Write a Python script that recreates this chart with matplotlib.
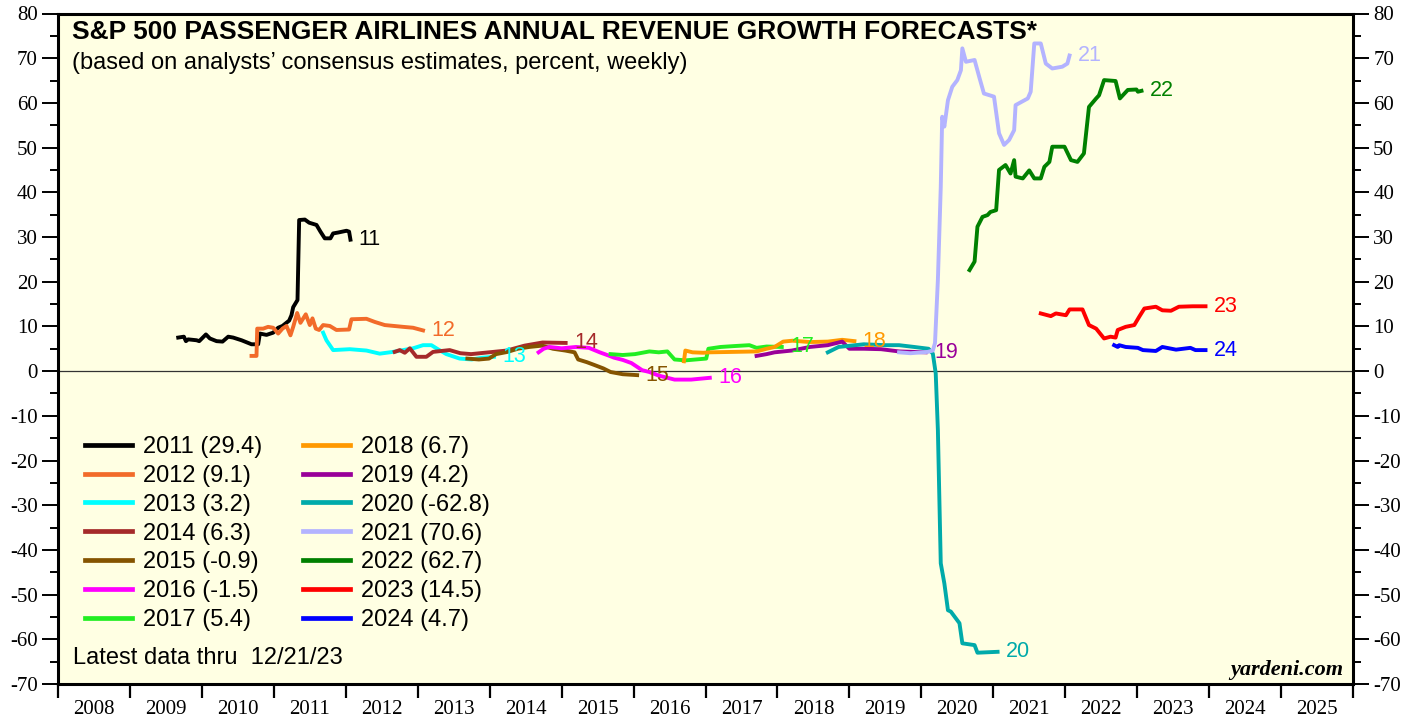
import matplotlib
matplotlib.use('Agg')
import matplotlib.pyplot as plt
from matplotlib.ticker import FixedLocator, MultipleLocator, NullFormatter, FixedFormatter

plt.rcParams['axes.unicode_minus'] = False
plt.rcParams['font.family'] = ['Liberation Serif', 'DejaVu Serif']

# ---------------- data (decimal year, percent) ----------------
years = [2011, 2012, 2013, 2014, 2015, 2016, 2017, 2018, 2019, 2020, 2021, 2022, 2023, 2024]
final_vals = [29.4, 9.1, 3.2, 6.3, -0.9, -1.5, 5.4, 6.7, 4.2, -62.8, 70.6, 62.7, 14.5, 4.7]
colors = ['#000000', '#F26B2A', '#00FFFF', '#A52A2A', '#855400', '#FF00FF', '#22EE22',
          '#FF9900', '#990099', '#00AAAA', '#B3B3FF', '#008000', '#FF0000', '#0000FF']

t2011 = [2009.671, 2009.750, 2009.778, 2009.810, 2009.926, 2009.963, 2010.056, 2010.111, 2010.204,
         2010.287, 2010.366, 2010.435, 2010.551, 2010.690, 2010.782, 2010.806, 2010.898, 2010.991,
         2011.060, 2011.120, 2011.213, 2011.245, 2011.269, 2011.329, 2011.352, 2011.431, 2011.491,
         2011.593, 2011.648, 2011.708, 2011.787, 2011.824, 2011.894, 2012.010, 2012.046, 2012.065]
v2011 = [7.5, 7.7, 6.7, 7.1, 6.9, 6.7, 8.2, 7.3, 6.7, 6.6, 7.7, 7.5, 6.9, 6.0, 6.0, 8.4, 8.1, 8.6,
         9.7, 10.1, 11.3, 12.5, 14.3, 15.9, 33.8, 33.9, 33.2, 32.7, 31.2, 29.7, 29.7, 30.8, 31.0,
         31.4, 31.2, 29.4]

t2012 = [2010.690, 2010.759, 2010.769, 2010.852, 2010.920, 2010.991, 2011.060, 2011.120, 2011.176,
         2011.231, 2011.269, 2011.324, 2011.370, 2011.444, 2011.500, 2011.537, 2011.583, 2011.630,
         2011.685, 2011.778, 2011.870, 2012.046, 2012.079, 2012.287, 2012.403, 2012.542, 2012.796,
         2012.935, 2013.074]
v2012 = [3.4, 3.4, 9.5, 9.5, 9.9, 9.7, 8.4, 9.5, 10.1, 8.0, 9.9, 13.0, 10.8, 12.7, 10.3, 11.8, 9.5,
         9.2, 10.3, 10.1, 9.2, 9.3, 11.6, 11.7, 11.0, 10.3, 9.9, 9.7, 9.1]

t2013 = [2011.685, 2011.731, 2011.824, 2012.056, 2012.287, 2012.472, 2012.657, 2012.935, 2013.074,
         2013.190, 2013.280, 2013.398, 2013.583, 2013.750, 2013.900, 2014.060]
v2013 = [8.6, 6.9, 4.7, 4.9, 4.6, 3.9, 4.3, 5.1, 5.8, 5.8, 4.9, 3.8, 2.8, 2.6, 3.0, 3.2]

t2014 = [2012.680, 2012.750, 2012.820, 2012.890, 2012.982, 2013.120, 2013.213, 2013.329, 2013.444,
         2013.593, 2013.742, 2013.990, 2014.238, 2014.486, 2014.735, 2015.056]
v2014 = [4.3, 4.7, 4.1, 5.1, 3.2, 3.2, 4.3, 4.5, 4.7, 4.0, 3.8, 4.2, 4.6, 5.7, 6.4, 6.3]

t2015 = [2013.690, 2013.850, 2013.990, 2014.090, 2014.250, 2014.390, 2014.550, 2014.730, 2014.880,
         2015.050, 2015.180, 2015.230, 2015.350, 2015.450, 2015.580, 2015.680, 2015.850, 2016.050]
v2015 = [2.8, 2.6, 2.8, 3.8, 4.3, 5.0, 5.4, 5.7, 5.0, 4.6, 4.2, 2.6, 2.0, 1.4, 0.6, -0.2, -0.7, -0.9]

t2016 = [2014.680, 2014.750, 2014.830, 2015.000, 2015.200, 2015.380, 2015.530, 2015.650, 2015.730,
         2015.850, 2015.970, 2016.120, 2016.220, 2016.350, 2016.570, 2016.800, 2017.060]
v2016 = [4.2, 5.0, 5.4, 5.1, 5.4, 5.2, 4.2, 3.5, 3.0, 2.5, 1.8, 0.2, -0.2, -1.0, -1.9, -1.9, -1.5]

t2017 = [2015.680, 2015.850, 2016.020, 2016.220, 2016.350, 2016.470, 2016.570, 2016.720, 2017.010,
         2017.040, 2017.210, 2017.400, 2017.610, 2017.710, 2017.850, 2018.060]
v2017 = [3.8, 3.6, 3.8, 4.4, 4.2, 4.4, 2.6, 2.4, 2.8, 5.0, 5.4, 5.6, 5.8, 5.2, 5.5, 5.4]

t2018 = [2016.700, 2016.720, 2016.820, 2016.970, 2017.060, 2017.400, 2017.710, 2017.850, 2017.960,
         2018.080, 2018.210, 2018.450, 2018.700, 2018.900, 2019.070]
v2018 = [2.2, 4.6, 4.2, 4.1, 4.2, 4.3, 4.4, 5.0, 5.4, 6.6, 6.8, 6.5, 6.6, 7.0, 6.7]

t2019 = [2017.710, 2017.850, 2017.960, 2018.200, 2018.450, 2018.700, 2018.900, 2019.000, 2019.200,
         2019.440, 2019.690, 2020.060]
v2019 = [3.4, 3.8, 4.2, 4.6, 5.4, 5.8, 6.6, 5.0, 5.0, 4.9, 4.4, 4.2]

t2020 = [2018.700, 2018.850, 2019.200, 2019.500, 2019.690, 2019.900, 2020.100, 2020.160, 2020.200,
         2020.230, 2020.250, 2020.270, 2020.320, 2020.370, 2020.410, 2020.530, 2020.570, 2020.740,
         2020.780, 2021.060]
v2020 = [4.2, 5.4, 6.0, 5.8, 5.8, 5.4, 5.0, 3.9, -0.5, -13.2, -28.1, -43.0, -47.5, -53.5, -53.8,
         -56.4, -60.9, -61.3, -63.0, -62.8]

t2021 = [2019.690, 2019.850, 2020.090, 2020.160, 2020.190, 2020.230, 2020.270, 2020.290, 2020.320,
         2020.370, 2020.430, 2020.500, 2020.550, 2020.570, 2020.620, 2020.740, 2020.810, 2020.870,
         2021.010, 2021.080, 2021.150, 2021.220, 2021.290, 2021.310, 2021.480, 2021.520, 2021.570,
         2021.660, 2021.730, 2021.820, 2021.960, 2022.030, 2022.060]
v2021 = [4.2, 4.0, 4.3, 4.6, 6.3, 20.4, 41.2, 56.9, 54.7, 60.6, 63.6, 65.1, 67.3, 72.2, 69.2, 69.6,
         65.5, 62.1, 61.4, 53.2, 50.6, 51.7, 53.9, 59.5, 61.0, 62.5, 73.3, 73.3, 68.8, 67.7, 68.1,
         68.8, 70.6]

t2022 = [2020.670, 2020.740, 2020.780, 2020.850, 2020.920, 2020.960, 2021.040, 2021.080, 2021.170,
         2021.240, 2021.290, 2021.310, 2021.410, 2021.500, 2021.570, 2021.660, 2021.710, 2021.780,
         2021.820, 2021.990, 2022.080, 2022.170, 2022.260, 2022.330, 2022.430, 2022.470, 2022.540,
         2022.700, 2022.760, 2022.870, 2022.990, 2023.010, 2023.060]
v2022 = [22.6, 24.5, 32.3, 34.5, 34.9, 35.6, 36.0, 45.0, 46.1, 44.2, 47.2, 43.5, 43.1, 44.9, 43.1,
         43.1, 45.7, 46.8, 50.2, 50.2, 47.2, 46.8, 48.7, 59.1, 61.0, 61.7, 65.1, 64.9, 61.0, 62.9,
         63.0, 62.5, 62.7]

t2023 = [2021.660, 2021.800, 2021.870, 2022.010, 2022.060, 2022.240, 2022.330, 2022.430, 2022.540,
         2022.630, 2022.700, 2022.730, 2022.840, 2022.960, 2023.030, 2023.100, 2023.260, 2023.350,
         2023.470, 2023.580, 2023.770, 2023.950]
v2023 = [12.9, 12.3, 12.9, 12.5, 13.8, 13.8, 10.3, 9.5, 7.3, 7.7, 7.5, 9.2, 9.9, 10.3, 12.2, 14.0,
         14.4, 13.6, 13.5, 14.4, 14.5, 14.5]

t2024 = [2022.680, 2022.730, 2022.750, 2022.840, 2023.010, 2023.080, 2023.260, 2023.350, 2023.540,
         2023.740, 2023.810, 2023.950]
v2024 = [5.8, 5.4, 5.8, 5.4, 5.2, 4.7, 4.5, 5.4, 4.8, 5.2, 4.7, 4.7]

series_t = [t2011, t2012, t2013, t2014, t2015, t2016, t2017, t2018, t2019, t2020, t2021, t2022, t2023, t2024]
series_v = [v2011, v2012, v2013, v2014, v2015, v2016, v2017, v2018, v2019, v2020, v2021, v2022, v2023, v2024]

axis_years = list(range(2008, 2026))

title = "S&P 500 PASSENGER AIRLINES ANNUAL REVENUE GROWTH FORECASTS*"
subtitle = "(based on analysts\u2019 consensus estimates, percent, weekly)"
note = "Latest data thru  12/21/23"
source = "yardeni.com"

SANS = ['Liberation Sans', 'DejaVu Sans']

# ---------------- figure ----------------
W, H = 1421, 719
fig = plt.figure(figsize=(W / 100, H / 100), dpi=100)
fig.patch.set_facecolor('white')
ax = fig.add_axes([58 / W, 1 - 684 / H, (1353 - 58) / W, (684 - 13.5) / H])
ax.set_facecolor('#FFFFE3')
ax.set_xlim(2008, 2026)
ax.set_ylim(-70, 80)

for s in ax.spines.values():
    s.set_linewidth(2.2)
    s.set_color('black')

ax.axhline(0, color='#333333', lw=0.9, zorder=1)

lines = []
for yr, tt, vv, c in zip(years, series_t, series_v, colors):
    ln, = ax.plot(tt, vv, color=c, lw=2.8, solid_joinstyle='round', zorder=3)
    lines.append(ln)
    ax.annotate(str(yr)[2:], xy=(tt[-1], vv[-1]), xytext=(6, 0), textcoords='offset points',
                color=c, fontsize=15.5, va='center', ha='left', family=SANS, zorder=4)

# x axis: ticks at year boundaries, labels centred in each year
ax.xaxis.set_major_locator(FixedLocator(list(range(2008, 2027))))
ax.xaxis.set_major_formatter(NullFormatter())
ax.xaxis.set_minor_locator(FixedLocator([y + 0.5 for y in axis_years]))
ax.xaxis.set_minor_formatter(FixedFormatter([str(y) for y in axis_years]))
ax.tick_params(axis='x', which='major', direction='out', length=10, width=1.6, top=False)
ax.tick_params(axis='x', which='minor', length=0, pad=11.5, labelsize=15)

# y axis: both sides
ax.yaxis.set_major_locator(MultipleLocator(10))
ax.yaxis.set_minor_locator(MultipleLocator(5))
ax.tick_params(axis='y', which='major', direction='out', length=11.5, width=1.4,
               left=True, right=True, labelleft=True, labelright=True, pad=3, labelsize=15)
ax.tick_params(axis='y', which='minor', direction='out', length=6, width=1.4, left=True, right=True)

# legend
labels = [f"{y} ({v:.1f})" for y, v in zip(years, final_vals)]
leg = ax.legend(lines, labels, ncol=2, loc='upper left', bbox_to_anchor=(85 / W, 1 - 436 / H),
                bbox_transform=fig.transFigure, frameon=False,
                prop={'family': SANS, 'size': 17}, handlelength=2.0,
                handletextpad=0.47, columnspacing=1.7, labelspacing=0.29, borderpad=0,
                borderaxespad=0)
for l in leg.get_lines():
    l.set_linewidth(3.4)

# texts
fig.text(72 / W, 1 - 32 / H, title, fontsize=19, fontweight='bold', family=SANS,
         va='center', ha='left')
fig.text(72 / W, 1 - 63 / H, subtitle, fontsize=17, family=SANS, va='center', ha='left')
fig.text(73 / W, 1 - 658 / H, note, fontsize=17, family=SANS, va='center', ha='left')
fig.text(1343 / W, 1 - 670 / H, source, fontsize=16, family='Liberation Serif', style='italic',
         fontweight='bold', va='center', ha='right')

fig.savefig('out.png', dpi=100)
